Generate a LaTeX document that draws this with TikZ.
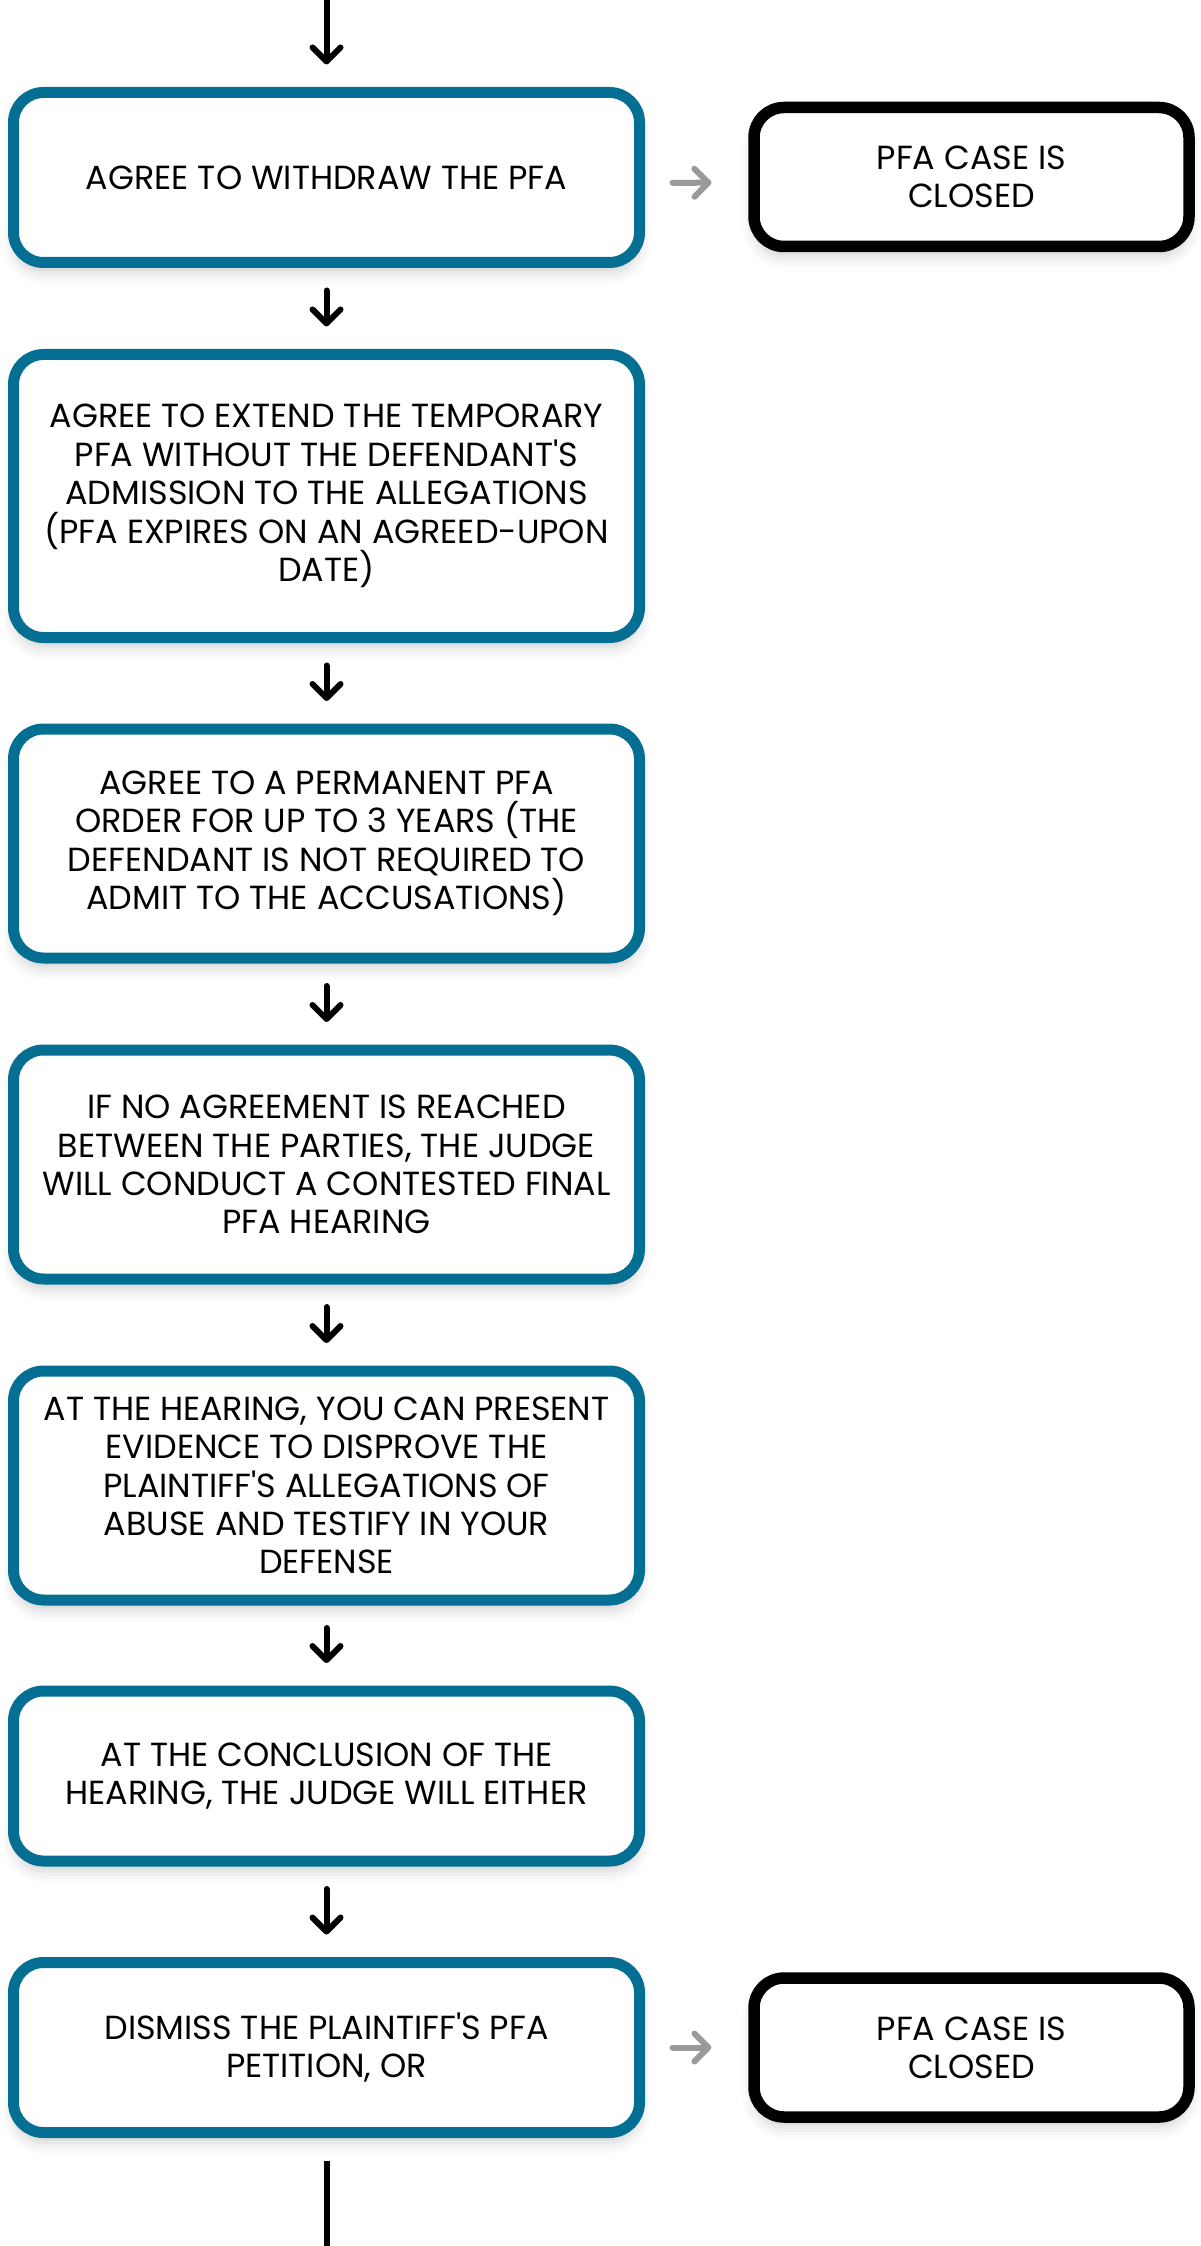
\documentclass[tikz,border=0pt]{standalone}
\usepackage{fontspec}
\setmainfont{Poppins}
\usetikzlibrary{arrows.meta,shadows.blur}
\definecolor{pfateal}{RGB}{4,111,147}
\definecolor{pfagray}{RGB}{154,154,154}
\tikzset{
  stepbox/.style={draw=pfateal, line width=5.5pt, fill=white, rounded corners=15pt,
    minimum width=313pt, align=center, inner sep=0pt,
    font=\fontsize{16.7pt}{19.2pt}\selectfont,
    blur shadow={shadow xshift=0pt, shadow yshift=-5pt, shadow blur radius=6pt, shadow opacity=18}},
  endbox/.style={stepbox, draw=black, line width=5.75pt, minimum width=217.5pt, minimum height=69.5pt},
  flow/.style={line width=3pt, line cap=round, -{Straight Barb[length=7pt, width=14pt, round]},
    shorten <=11.25pt, shorten >=11.25pt},
  side/.style={flow, draw=pfagray, shorten <=13.75pt, shorten >=18.4pt}
}
\begin{document}
\begin{tikzpicture}[x=0.5pt, y=-0.5pt]
\useasboundingbox (0,0) rectangle (1200,2246);
\coordinate (in) at (326.5,0);
\coordinate (out) at (326.5,2246);
\node (withdraw) [stepbox, minimum height=85pt] at (326.5,177.5) {AGREE TO WITHDRAW THE PFA};
\node (extend) [stepbox, minimum height=141.5pt] at (326.5,496) {
  AGREE TO EXTEND THE TEMPORARY\\
  PFA WITHOUT THE DEFENDANT\textquotesingle S\\
  ADMISSION TO THE ALLEGATIONS\\
  (PFA EXPIRES ON AN AGREED-UPON\\
  DATE)};
\node (permanent) [stepbox, minimum height=114.5pt] at (326.5,843.5) {
  AGREE TO A PERMANENT PFA\\
  ORDER FOR UP TO 3 YEARS (THE\\
  DEFENDANT IS NOT REQUIRED TO\\
  ADMIT TO THE ACCUSATIONS)};
\node (contested) [stepbox, minimum height=114.5pt] at (326.5,1164.5) {
  IF NO AGREEMENT IS REACHED\\
  BETWEEN THE PARTIES, THE JUDGE\\
  WILL CONDUCT A CONTESTED FINAL\\
  PFA HEARING};
\node (hearing) [stepbox, minimum height=114.5pt] at (326.5,1485.5) {
  AT THE HEARING, YOU CAN PRESENT\\
  EVIDENCE TO DISPROVE THE\\
  PLAINTIFF\textquotesingle S ALLEGATIONS OF\\
  ABUSE AND TESTIFY IN YOUR\\
  DEFENSE};
\node (conclusion) [stepbox, minimum height=85pt] at (326.5,1776) {
  AT THE CONCLUSION OF THE\\
  HEARING, THE JUDGE WILL EITHER};
\node (dismiss) [stepbox, minimum height=85pt] at (326.5,2047.5) {
  DISMISS THE PLAINTIFF\textquotesingle S PFA\\
  PETITION, OR};
\node (closedA) [endbox] at (971.5,177) {PFA CASE IS\\CLOSED};
\node (closedB) [endbox] at (971.5,2047.5) {PFA CASE IS\\CLOSED};
% main line
\draw [flow, shorten <=0pt] (in) -- (withdraw);
\draw [flow] (withdraw) -- (extend);
\draw [flow] (extend) -- (permanent);
\draw [flow] (permanent) -- (contested);
\draw [flow] (contested) -- (hearing);
\draw [flow] (hearing) -- (conclusion);
\draw [flow] (conclusion) -- (dismiss);
\draw [line width=3pt, shorten <=11.25pt] (dismiss) -- (out);
% case closed
\draw [side] ([yshift=-2.75pt]withdraw.east) -- ([yshift=-2.75pt]closedA.west);
\draw [side] (dismiss) -- (closedB);
\end{tikzpicture}
\end{document}
